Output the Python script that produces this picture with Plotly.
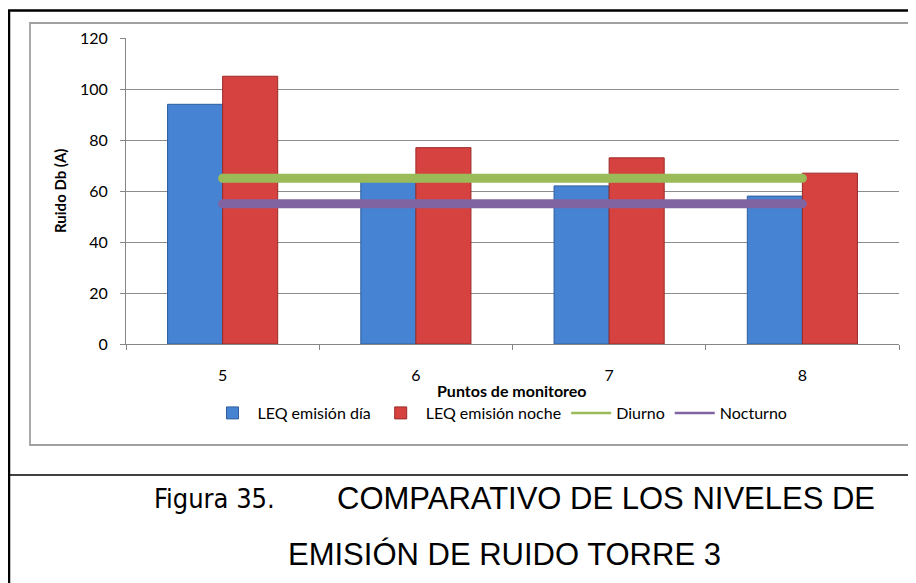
import plotly.graph_objects as go

# ---- data ----
categories = ["5", "6", "7", "8"]
leq_dia = [94, 64, 62, 58]
leq_noche = [105, 77, 73, 67]
diurno = [65, 65, 65, 65]
nocturno = [55, 55, 55, 55]
y_ticks = [0, 20, 40, 60, 80, 100, 120]

# page is rendered with an 8px body margin -> figure is shifted by 8px
OFF = 8
PW, PH = 916, 583               # page size
W, H = PW - OFF, PH - OFF       # figure size
L, R, T, B = 126, 899, 38, 344  # plot area in page px


def px(x):
    return (x - L) / (R - L)


def py(y):
    return (B - y) / (B - T)


FONT = "Lato, 'Open Sans', sans-serif"
FS = 16

fig = go.Figure()
fig.add_trace(go.Bar(x=categories, y=leq_dia, name="LEQ emisión día",
                     marker=dict(color="#4683D3", line=dict(color="#2E5E9C", width=1))))
fig.add_trace(go.Bar(x=categories, y=leq_noche, name="LEQ emisión noche",
                     marker=dict(color="#D6423F", line=dict(color="#9A2B29", width=1))))
for vals, col in ((diurno, "#9BBB59"), (nocturno, "#8064A2")):
    fig.add_trace(go.Scatter(x=categories, y=vals, mode="lines+markers", showlegend=False,
                             line=dict(color=col, width=9),
                             marker=dict(color=col, size=9, line=dict(width=0)),
                             hoverinfo="skip"))
fig.add_trace(go.Scatter(x=[None], y=[None], mode="lines", name="Diurno",
                         line=dict(color="#9BBB59", width=2.5)))
fig.add_trace(go.Scatter(x=[None], y=[None], mode="lines", name="Nocturno",
                         line=dict(color="#8064A2", width=2.5)))

shapes = [
    # outer black frame
    dict(type="rect", xref="paper", yref="paper", x0=px(9), x1=px(930), y0=py(600), y1=py(10.5),
         line=dict(color="black", width=2.5), layer="below"),
    # separator above caption
    dict(type="line", xref="paper", yref="paper", x0=px(9), x1=px(930), y0=py(475), y1=py(475),
         line=dict(color="black", width=1.5)),
    # chart area gray border
    dict(type="rect", xref="paper", yref="paper", x0=px(30), x1=px(911), y0=py(445), y1=py(23),
         line=dict(color="#A0A0A0", width=1.8), layer="below"),
]

annotations = [
    dict(text="<b>Ruido Db (A)</b>", xref="paper", yref="paper", x=px(60), y=py(191),
         textangle=-90, showarrow=False, font=dict(family=FONT, size=FS - 1, color="black"),
         xanchor="center", yanchor="middle"),
    dict(text="<b>Puntos de monitoreo</b>", xref="paper", yref="paper", x=px(512), y=py(391),
         showarrow=False, font=dict(family=FONT, size=FS, color="black"),
         xanchor="center", yanchor="middle"),
    dict(text="Figura 35.", xref="paper", yref="paper", x=px(277), y=py(498),
         showarrow=False, font=dict(family="'DejaVu Sans Condensed', 'DejaVu Sans', sans-serif", size=27, color="black"),
         xanchor="right", yanchor="middle"),
    dict(text="COMPARATIVO DE LOS NIVELES DE", xref="paper", yref="paper", x=px(335), y=py(498),
         showarrow=False, font=dict(family="'Liberation Sans', Arial, sans-serif", size=31, color="black"),
         xanchor="left", yanchor="middle"),
    dict(text="EMISIÓN DE RUIDO TORRE 3", xref="paper", yref="paper", x=px(504), y=py(554),
         showarrow=False, font=dict(family="'Liberation Sans', Arial, sans-serif", size=31, color="black"),
         xanchor="center", yanchor="middle"),
]

fig.update_layout(
    width=W, height=H,
    margin=dict(l=L - OFF, r=PW - R, t=T - OFF, b=PH - B, pad=0),
    paper_bgcolor="white", plot_bgcolor="white",
    barmode="group", bargap=0.43, bargroupgap=0,
    font=dict(family=FONT, size=FS, color="black"),
    showlegend=True,
    legend=dict(orientation="h", x=px(500), y=py(413), xanchor="center", yanchor="middle",
                font=dict(family=FONT, size=FS, color="black"), bgcolor="rgba(0,0,0,0)",
                itemwidth=40, tracegroupgap=0),
    xaxis=dict(type="category", categoryorder="array", categoryarray=categories,
               showgrid=False, showline=True, linecolor="#868686", linewidth=1,
               ticks="outside", tickson="boundaries", ticklen=5, tickcolor="#868686",
               tickfont=dict(family=FONT, size=FS), ticklabelstandoff=17),
    yaxis=dict(range=[0, 120], tickvals=y_ticks, showgrid=True, gridcolor="#8C8C8C", gridwidth=1,
               showline=True, linecolor="#868686", linewidth=1, zeroline=False,
               ticks="outside", ticklen=5, tickcolor="#868686",
               tickfont=dict(family=FONT, size=FS), ticklabelstandoff=9),
    shapes=shapes,
    annotations=annotations,
)

fig.write_html("out.html")
